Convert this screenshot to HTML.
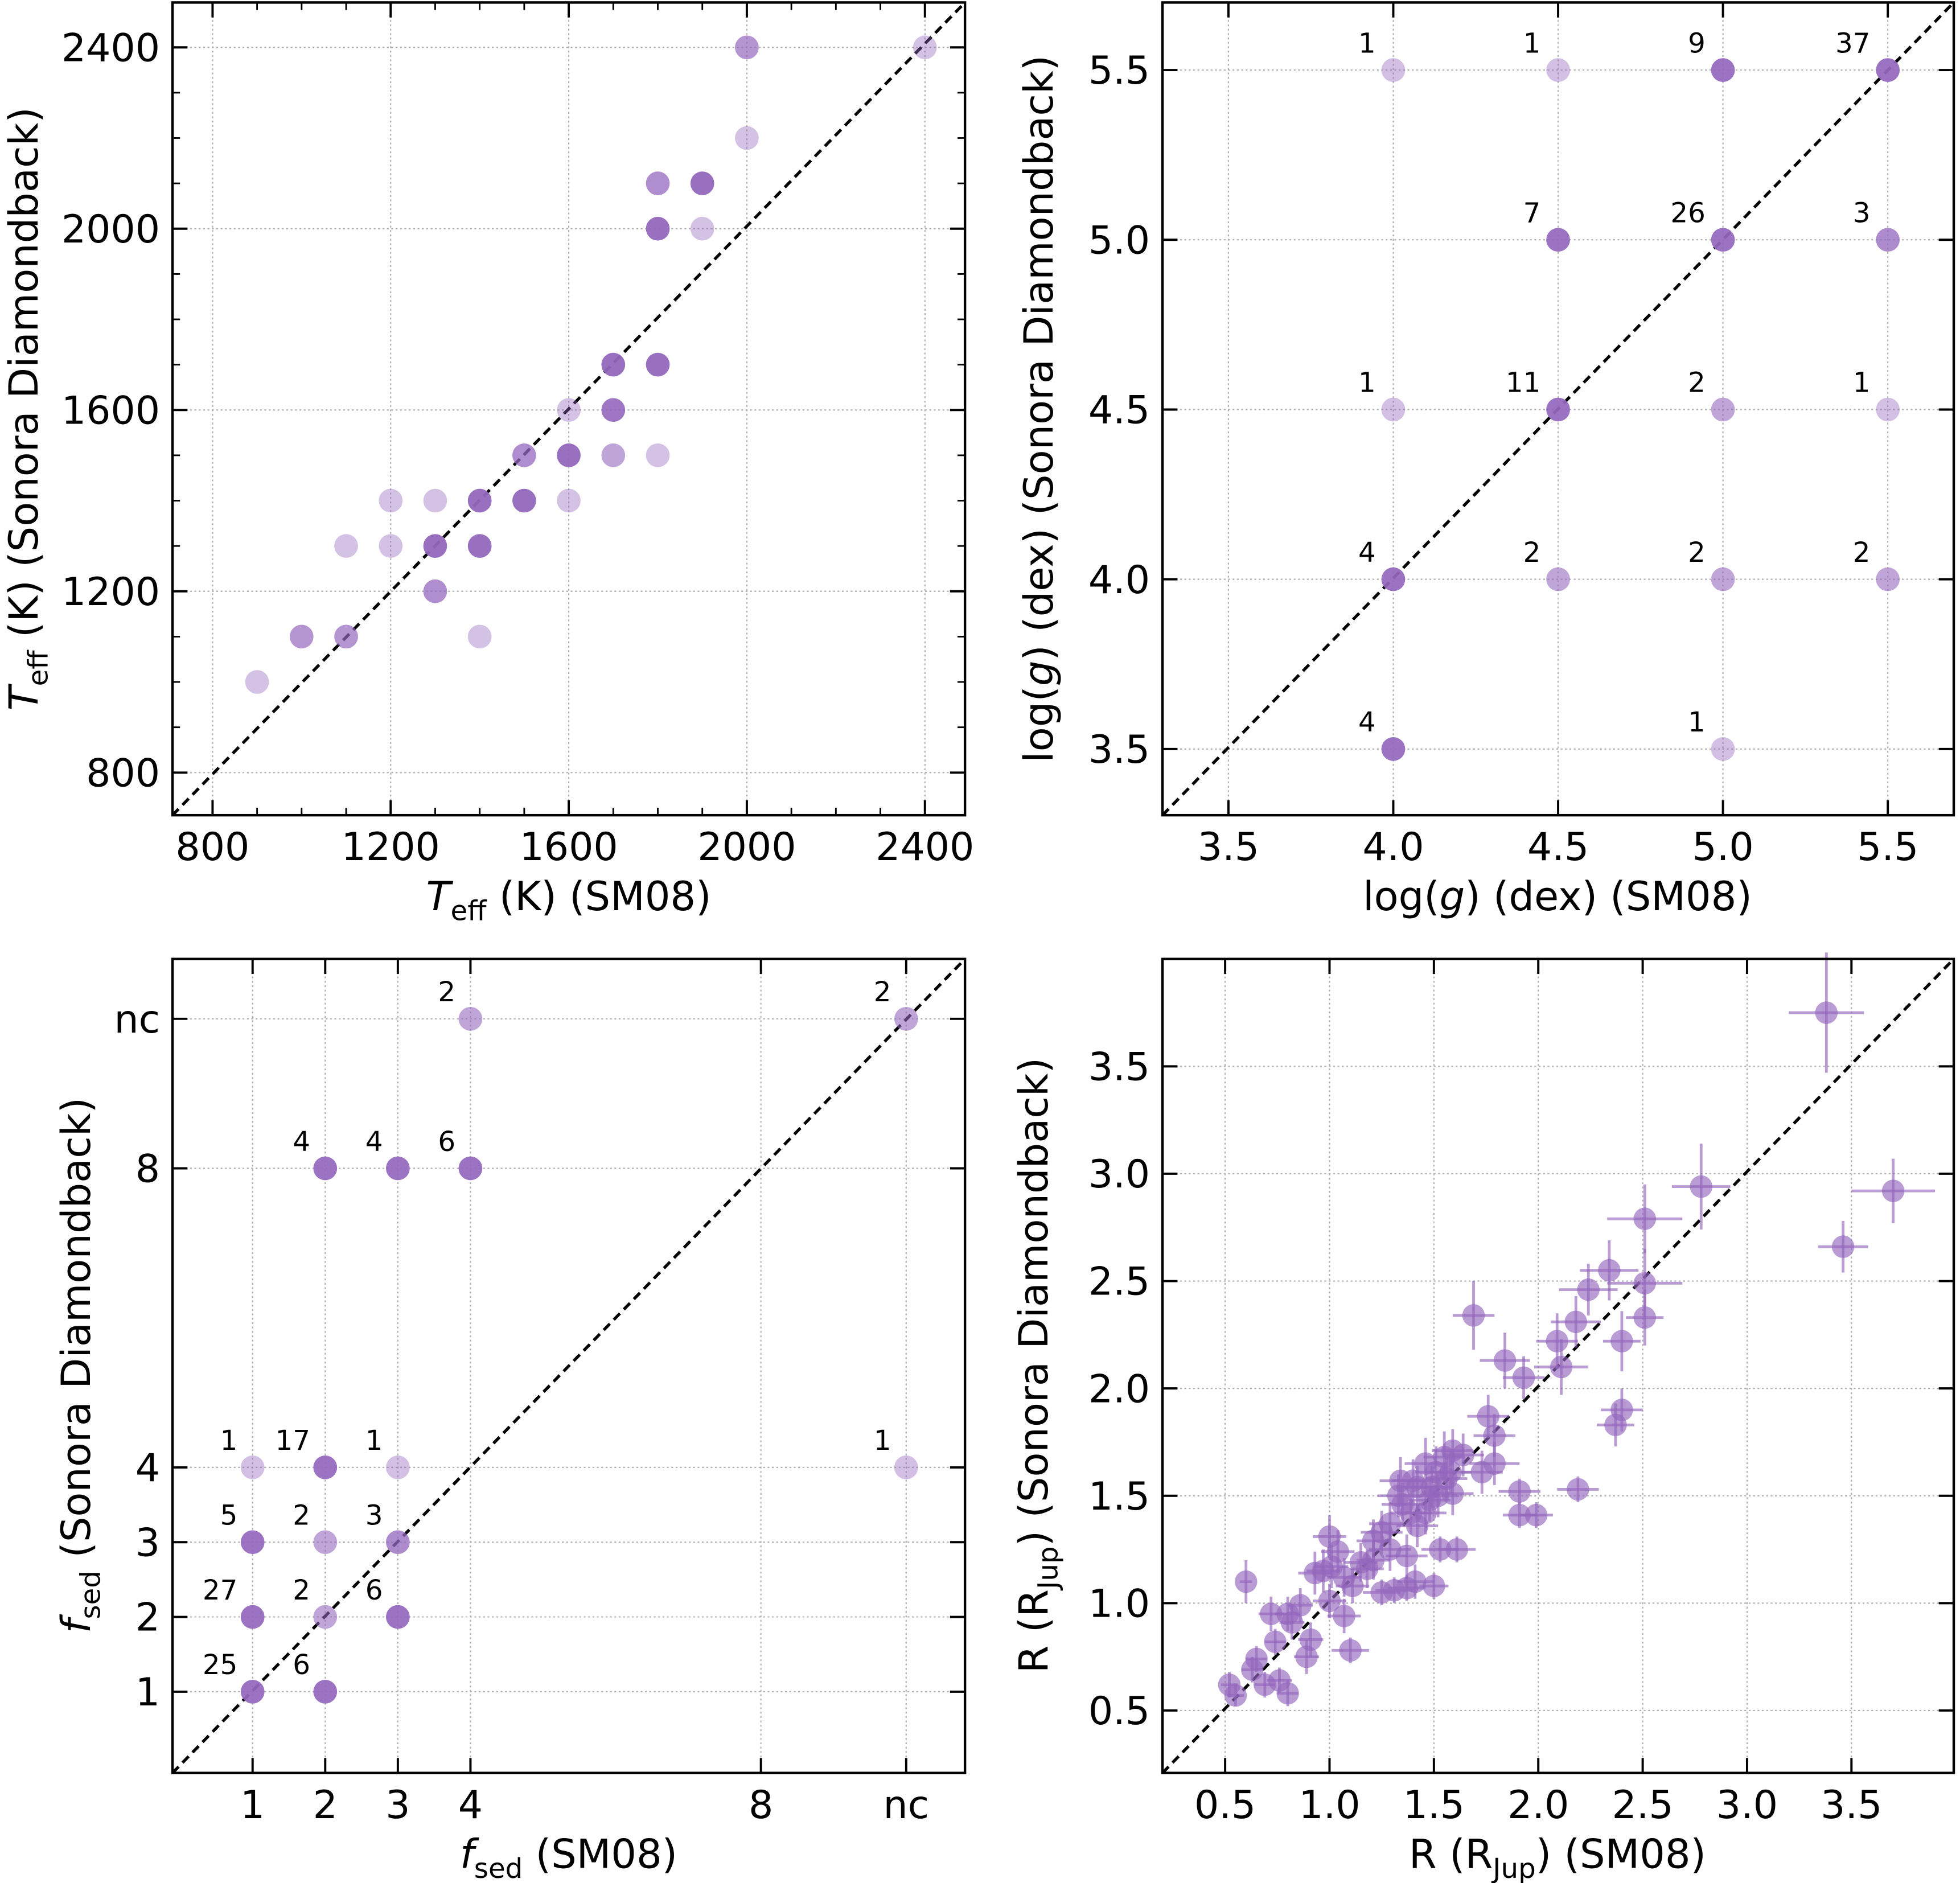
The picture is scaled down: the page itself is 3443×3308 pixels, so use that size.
<!DOCTYPE html>
<html><head><meta charset="utf-8">
<style>
html,body{margin:0;padding:0;background:#fff;}
svg{display:block;}
text{font-family:"DejaVu Sans","Liberation Sans",sans-serif;fill:#000;}
</style></head>
<body>
<svg id="fig" xmlns="http://www.w3.org/2000/svg" width="3443" height="3308" viewBox="0 0 1568 1506" preserveAspectRatio="none"></svg>
<script>
// ---------- Panel 1 data: Teff ----------
const p1X = [900,1000,1100,1100,1200,1200,1300,1300,1300,1400,1400,1400,1500,1500,1600,1600,1600,1700,1700,1700,1800,1800,1800,1800,1900,1900,2000,2000,2400];
const p1Y = [1000,1100,1100,1300,1400,1300,1400,1300,1200,1400,1300,1100,1500,1400,1600,1500,1400,1700,1600,1500,1700,1500,2000,2100,2100,2000,2200,2400,2400];
const p1A = [0.4,0.7,0.7,0.4,0.4,0.4,0.4,0.95,0.75,0.95,0.95,0.4,0.75,0.95,0.4,0.95,0.4,0.95,0.9,0.6,0.95,0.4,0.95,0.75,0.95,0.4,0.4,0.7,0.4];
const p1Ticks = [800,1200,1600,2000,2400];
// ---------- Panel 2 data: logg ----------
const p2X = [4,4.5,5,5.5,4.5,5,5.5,4,4.5,5,5.5,4,4.5,5,5.5,4,5];
const p2Y = [5.5,5.5,5.5,5.5,5,5,5,4.5,4.5,4.5,4.5,4,4,4,4,3.5,3.5];
const p2N = [1,1,9,37,7,26,3,1,11,2,1,4,2,2,2,4,1];
const p2Ticks = [3.5,4.0,4.5,5.0,5.5];
const p2TickLabels = ["3.5","4.0","4.5","5.0","5.5"];
// ---------- Panel 3 data: fsed (nc = 10) ----------
const p3X = [4,10,2,3,4,1,2,3,10,1,2,3,1,2,3,1,2];
const p3Y = [10,10,8,8,8,4,4,4,4,3,3,3,2,2,2,1,1];
const p3N = [2,2,4,4,6,1,17,1,1,5,2,3,27,2,6,25,6];
const p3Ticks = [1,2,3,4,8,10];
const p3TickLabels = ["1","2","3","4","8","nc"];
// ---------- Panel 4 data: radius ----------
const p4X = [3.38,3.70,3.46,2.78,2.51,2.51,2.51,2.34,2.40,2.40,2.37,2.24,2.18,2.09,2.11,2.19,1.69,1.84,1.93,1.91,1.91,1.99,1.76,1.79,1.79,1.73,1.61,1.53,1.50,1.37,
 0.52,0.55,0.60,0.63,0.65,0.69,0.72,0.74,0.76,0.80,0.80,0.82,0.89,0.91,0.86,0.93,0.97,1.00,1.01,1.04,1.00,1.07,1.10,1.11,1.07,1.18,1.21,1.25,1.25,1.31,
 1.29,1.29,1.35,1.39,1.34,1.42,1.46,1.51,1.55,1.59,1.64,1.48,1.52,1.42,1.41,1.37,1.40,1.49,1.56,1.59,1.58,1.46,1.33,1.21,1.15];
const p4Y = [3.75,2.92,2.66,2.94,2.79,2.49,2.33,2.55,2.22,1.90,1.83,2.46,2.31,2.22,2.10,1.53,2.34,2.13,2.05,1.52,1.41,1.41,1.87,1.78,1.65,1.61,1.25,1.25,1.08,1.07,
 0.62,0.57,1.10,0.69,0.74,0.62,0.95,0.82,0.64,0.58,0.95,0.91,0.75,0.83,0.99,1.14,1.15,1.01,1.17,1.24,1.31,0.94,0.78,1.08,1.12,1.16,1.29,1.33,1.05,1.06,
 1.25,1.37,1.46,1.42,1.57,1.54,1.65,1.61,1.68,1.71,1.69,1.48,1.50,1.36,1.10,1.22,1.57,1.54,1.58,1.51,1.61,1.42,1.50,1.20,1.19];
const p4XE = [0.18,0.20,0.12,0.14,0.18,0.18,0.09,0.14,0.09,0.10,0.09,0.14,0.12,0.10,0.13,0.10,0.10,0.12,0.10,0.10,0.08,0.08,0.10,0.10,0.12,0.10,0.09,0.09,0.07,0.09,
 0.04,0.04,0.03,0.05,0.05,0.05,0.06,0.05,0.06,0.05,0.06,0.06,0.06,0.06,0.06,0.08,0.08,0.08,0.08,0.08,0.08,0.08,0.09,0.08,0.08,0.08,0.08,0.10,0.09,0.09,
 0.10,0.10,0.10,0.10,0.10,0.10,0.10,0.10,0.10,0.10,0.10,0.10,0.10,0.10,0.09,0.10,0.10,0.10,0.10,0.10,0.10,0.10,0.10,0.08,0.08];
const p4YE = [0.28,0.15,0.12,0.20,0.16,0.16,0.13,0.14,0.14,0.10,0.10,0.12,0.12,0.13,0.13,0.06,0.16,0.13,0.10,0.06,0.06,0.06,0.10,0.10,0.10,0.10,0.06,0.06,0.06,0.06,
 0.06,0.05,0.10,0.06,0.06,0.06,0.08,0.06,0.06,0.06,0.08,0.08,0.08,0.08,0.08,0.10,0.10,0.08,0.10,0.10,0.10,0.08,0.06,0.08,0.09,0.09,0.10,0.10,0.06,0.06,
 0.10,0.10,0.10,0.10,0.11,0.10,0.12,0.12,0.12,0.10,0.10,0.10,0.10,0.10,0.08,0.10,0.10,0.10,0.10,0.10,0.10,0.10,0.10,0.09,0.09];
const p4Ticks = [0.5,1.0,1.5,2.0,2.5,3.0,3.5];
const p4TickLabels = ["0.5","1.0","1.5","2.0","2.5","3.0","3.5"];

const NS = "http://www.w3.org/2000/svg";
const svg = document.getElementById('fig');
const PURPLE = "#9467bd";
function el(tag, attrs, parent){
  const e = document.createElementNS(NS, tag);
  for (const k in attrs) e.setAttribute(k, attrs[k]);
  (parent||svg).appendChild(e);
  return e;
}
function scale(d0,d1,r0,r1){ return v => r0 + (v-d0)/(d1-d0)*(r1-r0); }

function panel(name, box, xd, yd, xt, yt){
  const g = el('g', {});
  
  
  const sx = scale(xd[0],xd[1],box.x0,box.x1);
  const sy = scale(yd[0],yd[1],box.y1,box.y0);
  xt.forEach(v=>{ const l=el('line',{x1:sx(v),x2:sx(v),y1:box.y0,y2:box.y1,stroke:'#b0b0b0','stroke-width':1,'stroke-dasharray':'1.5,2'},g);
     });
  yt.forEach(v=>{ const l=el('line',{x1:box.x0,x2:box.x1,y1:sy(v),y2:sy(v),stroke:'#b0b0b0','stroke-width':1,'stroke-dasharray':'1.5,2'},g);
     });
  return {g,sx,sy};
}
function frame(p, box, xt, xtl, yt, ytl, minorX, minorY){
  const {g,sx,sy} = p;
  const r = el('rect',{x:box.x0,y:box.y0,width:box.x1-box.x0,height:box.y1-box.y0,fill:'none',stroke:'#000','stroke-width':2},g);
   
  const tick=(x1,y1,x2,y2,w)=>{const t=el('line',{x1,y1,x2,y2,stroke:'#000','stroke-width':w||1.8},g);  };
  xt.forEach((v,i)=>{ const x=sx(v); tick(x,box.y1,x,box.y1-12); tick(x,box.y0,x,box.y0+12);
    const t=el('text',{x:x,y:box.y1+36,'font-size':31,'text-anchor':'middle'},g); t.textContent=xtl[i];
     });
  yt.forEach((v,i)=>{ const y=sy(v); tick(box.x0,y,box.x0+12,y); tick(box.x1,y,box.x1-12,y);
    const t=el('text',{x:box.x0-10,y:y+11,'font-size':31,'text-anchor':'end'},g); t.textContent=ytl[i];
     });
  (minorX||[]).forEach(v=>{const x=sx(v); tick(x,box.y1,x,box.y1-6,1.3); tick(x,box.y0,x,box.y0+6,1.3);});
  (minorY||[]).forEach(v=>{const y=sy(v); tick(box.x0,y,box.x0+6,y,1.3); tick(box.x1,y,box.x1-6,y,1.3);});
}
function diag(p, box){
  const l = el('line',{x1:box.x0,y1:box.y1,x2:box.x1,y2:box.y0,stroke:'#000','stroke-width':2.4,'stroke-dasharray':'7,4.5'},p.g);
   
}
function alphaN(n){ return Math.min(0.93, 0.25+0.17*n); }
function label(html, x, y, rot, parent, name){
  const attrs = {x, y,'font-size':32,'text-anchor':'middle'};
  if (rot) attrs.transform = `rotate(-90 ${x} ${y})`;
  const t = el('text', attrs, parent);
  t.innerHTML = html;
   
}
const SUB = 'font-size="22" dy="8"';

// Panel 1
const b1={x0:138,x1:772,y0:2,y1:652};
const P1 = panel('teff-panel', b1, [710,2490],[706,2499], p1Ticks, p1Ticks);
diag(P1,b1);
p1X.forEach((v,i)=>{ const c=el('circle',{cx:P1.sx(v),cy:P1.sy(p1Y[i]),r:9.5,fill:PURPLE,'fill-opacity':p1A[i]},P1.g);
   });
const m1=[]; for(let v=800; v<=2400; v+=100) if(v%400) m1.push(v);
frame(P1,b1,p1Ticks,p1Ticks.map(String),p1Ticks,p1Ticks.map(String),m1,m1);
label(`<tspan font-style="italic">T</tspan><tspan ${SUB}>eff</tspan><tspan dy="-8"> (K) (SM08)</tspan>`,455,728,false,P1.g,'x-axis-title');
label(`<tspan font-style="italic">T</tspan><tspan ${SUB}>eff</tspan><tspan dy="-8"> (K) (Sonora Diamondback)</tspan>`,30,327,true,P1.g,'y-axis-title');

// Panel 2
const b2={x0:930,x1:1563,y0:2,y1:652};
const P2 = panel('logg-panel', b2, [3.3,5.7],[3.305,5.699], p2Ticks, p2Ticks);
diag(P2,b2);
p2X.forEach((v,i)=>{ const x=P2.sx(v), y=P2.sy(p2Y[i]);
  const c=el('circle',{cx:x,cy:y,r:9.5,fill:PURPLE,'fill-opacity':alphaN(p2N[i])},P2.g);
   
  const t=el('text',{x:x-14,y:y-14,'font-size':22,'text-anchor':'end'},P2.g); t.textContent=p2N[i];
   });
frame(P2,b2,p2Ticks,p2TickLabels,p2Ticks,p2TickLabels);
label('log(<tspan font-style="italic">g</tspan>) (dex) (SM08)',1246,728,false,P2.g,'x-axis-title');
label('log(<tspan font-style="italic">g</tspan>) (dex) (Sonora Diamondback)',842,327,true,P2.g,'y-axis-title');

// Panel 3
const b3={x0:138,x1:772,y0:767,y1:1418};
const P3 = panel('fsed-panel', b3, [-0.103,10.81],[-0.087,10.8], p3Ticks, p3Ticks);
diag(P3,b3);
p3X.forEach((v,i)=>{ const x=P3.sx(v), y=P3.sy(p3Y[i]);
  const c=el('circle',{cx:x,cy:y,r:9.5,fill:PURPLE,'fill-opacity':alphaN(p3N[i])},P3.g);
   
  const t=el('text',{x:x-12,y:y-14,'font-size':22,'text-anchor':'end'},P3.g); t.textContent=p3N[i];
   });
frame(P3,b3,p3Ticks,p3TickLabels,p3Ticks,p3TickLabels);
label(`<tspan font-style="italic">f</tspan><tspan ${SUB}>sed</tspan><tspan dy="-8"> (SM08)</tspan>`,455,1494,false,P3.g,'x-axis-title');
label(`<tspan font-style="italic">f</tspan><tspan ${SUB}>sed</tspan><tspan dy="-8"> (Sonora Diamondback)</tspan>`,72,1092,true,P3.g,'y-axis-title');

// Panel 4
const b4={x0:930,x1:1563,y0:767,y1:1418};
const P4 = panel('radius-panel', b4, [0.2,3.99],[0.209,4.0], p4Ticks, p4Ticks);
diag(P4,b4);
p4X.forEach((v,i)=>{ const x=P4.sx(v), y=P4.sy(p4Y[i]);
  const gx=el('g',{},P4.g);
   
  el('line',{x1:P4.sx(v-p4XE[i]),x2:P4.sx(v+p4XE[i]),y1:y,y2:y,stroke:PURPLE,'stroke-width':2.2,'stroke-opacity':0.65},gx);
  el('line',{x1:x,x2:x,y1:P4.sy(p4Y[i]-p4YE[i]),y2:P4.sy(p4Y[i]+p4YE[i]),stroke:PURPLE,'stroke-width':2.2,'stroke-opacity':0.65},gx);
  el('circle',{cx:x,cy:y,r:9,fill:PURPLE,'fill-opacity':0.65},gx);
});
frame(P4,b4,p4Ticks,p4TickLabels,p4Ticks,p4TickLabels);
label(`R (R<tspan ${SUB}>Jup</tspan><tspan dy="-8">) (SM08)</tspan>`,1246,1494,false,P4.g,'x-axis-title');
label(`R (R<tspan ${SUB}>Jup</tspan><tspan dy="-8">) (Sonora Diamondback)</tspan>`,838,1092,true,P4.g,'y-axis-title');
</script>
</body></html>
